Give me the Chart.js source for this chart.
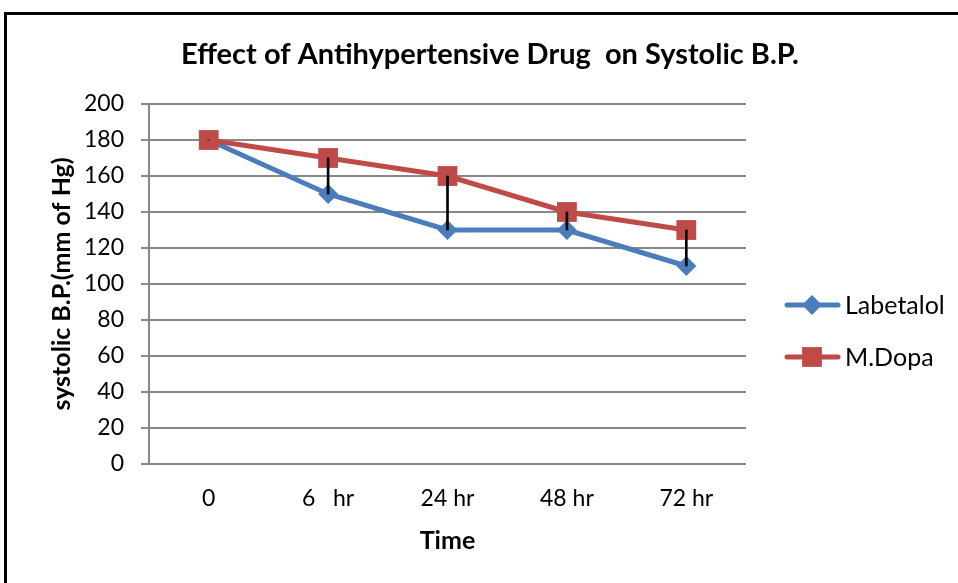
<!DOCTYPE html>
<html>
<head>
<meta charset="utf-8">
<script src="https://cdn.jsdelivr.net/npm/chart.js@4/dist/chart.umd.min.js"></script>
<style>
  html, body { margin: 0; padding: 0; background: #fff; overflow: hidden; }
  #frame {
    position: absolute; left: 4px; top: 12px; width: 1000px; height: 600px;
    border-left: 3px solid #000; border-top: 3px solid #000;
  }
  #wrap { position: absolute; left: 0; top: 0; width: 958px; height: 583px; }
</style>
</head>
<body>
<div id="frame"></div>
<div id="wrap"><canvas id="bpChart" width="958" height="583"></canvas></div>
<script>
// chart data
const timeLabels = ['0', '6   hr', '24 hr', '48 hr', '72 hr'];
const labetalol = [180, 150, 130, 130, 110];
const mDopa = [180, 170, 160, 140, 130];
const yTicks = [0, 20, 40, 60, 80, 100, 120, 140, 160, 180, 200];

const BLUE = '#4a7ebb';
const RED = '#be4b48';
const FONT = 'Lato, "Liberation Sans", sans-serif';

// high-low lines between the two series
const hiLow = labetalol.map((v, i) => [Math.min(v, mDopa[i]), Math.max(v, mDopa[i])]);

// legend drawn to the right like the Excel one
const sideLegend = {
  id: 'sideLegend',
  afterDraw(chart) {
    const ctx = chart.ctx;
    const items = [
      { name: 'Labetalol', color: BLUE, shape: 'rectRot', r: 10, y: 305 },
      { name: 'M.Dopa', color: RED, shape: 'rect', r: 14, y: 357 }
    ];
    items.forEach(it => {
      ctx.save();
      ctx.strokeStyle = it.color;
      ctx.lineWidth = 5;
      ctx.lineCap = 'round';
      ctx.beginPath();
      ctx.moveTo(787, it.y);
      ctx.lineTo(838, it.y);
      ctx.stroke();
      ctx.fillStyle = it.color;
      Chart.helpers.drawPoint(ctx, { pointStyle: it.shape, radius: it.r, borderWidth: 0 }, 812, it.y);
      ctx.fillStyle = '#000';
      ctx.font = '25px ' + FONT;
      ctx.textBaseline = 'middle';
      ctx.fillText(it.name, 845, it.y + 1);
      ctx.restore();
    });
  }
};

const ctx = document.getElementById('bpChart').getContext('2d');
new Chart(ctx, {
  data: {
    labels: timeLabels,
    datasets: [
      {
        type: 'bar', label: 'hilo', data: hiLow, backgroundColor: '#000',
        barThickness: 2, order: 0, minBarLength: 0
      },
      {
        type: 'line', label: 'Labetalol', data: labetalol, borderColor: BLUE, backgroundColor: BLUE,
        borderWidth: 5, pointStyle: 'rectRot', pointRadius: 10, pointBorderWidth: 0, order: 2
      },
      {
        type: 'line', label: 'M.Dopa', data: mDopa, borderColor: RED, backgroundColor: RED,
        borderWidth: 5, pointStyle: 'rect', pointRadius: 14, pointBorderWidth: 0, order: 1
      }
    ]
  },
  options: {
    responsive: false,
    animation: false,
    layout: { padding: { left: 22, right: 0, top: 0, bottom: 27 } },
    plugins: {
      legend: { display: false },
      tooltip: { enabled: false },
      title: {
        display: true,
        text: 'Effect of Antihypertensive Drug  on Systolic B.P.',
        color: '#000',
        font: { family: FONT, size: 29, weight: 'bold' },
        padding: { top: 37.6, bottom: 31.6 }
      }
    },
    scales: {
      x: {
        offset: true,
        afterFit(scale) { scale.height = 92; },
        grid: { display: false, drawTicks: false },
        border: { display: false },
        ticks: { color: '#000', font: { family: FONT, size: 23 }, padding: 21 },
        title: {
          display: true, text: 'Time', color: '#000',
          font: { family: FONT, size: 25, weight: 'bold' }, padding: { top: 13, bottom: 0 }
        }
      },
      y: {
        min: 0, max: 200,
        afterBuildTicks(scale) { scale.ticks = yTicks.map(v => ({ value: v })); },
        afterFit(scale) { scale.width = 127; },
        grid: { color: '#888', lineWidth: 2, tickLength: 8 },
        border: { color: '#888', width: 2 },
        ticks: { color: '#000', font: { family: FONT, size: 23 }, padding: 17 },
        title: {
          display: true, text: 'systolic B.P.(mm of Hg)', color: '#000',
          font: { family: FONT, size: 25, weight: 'bold' }, padding: { top: 25, bottom: 0 }
        }
      },
      // empty right-hand space where the legend sits
      legendSpace: {
        type: 'linear', position: 'right', display: true,
        afterFit(scale) { scale.width = 212; },
        grid: { display: false, drawTicks: false },
        border: { display: false },
        ticks: { display: false }
      }
    }
  },
  plugins: [sideLegend]
});
</script>
</body>
</html>
